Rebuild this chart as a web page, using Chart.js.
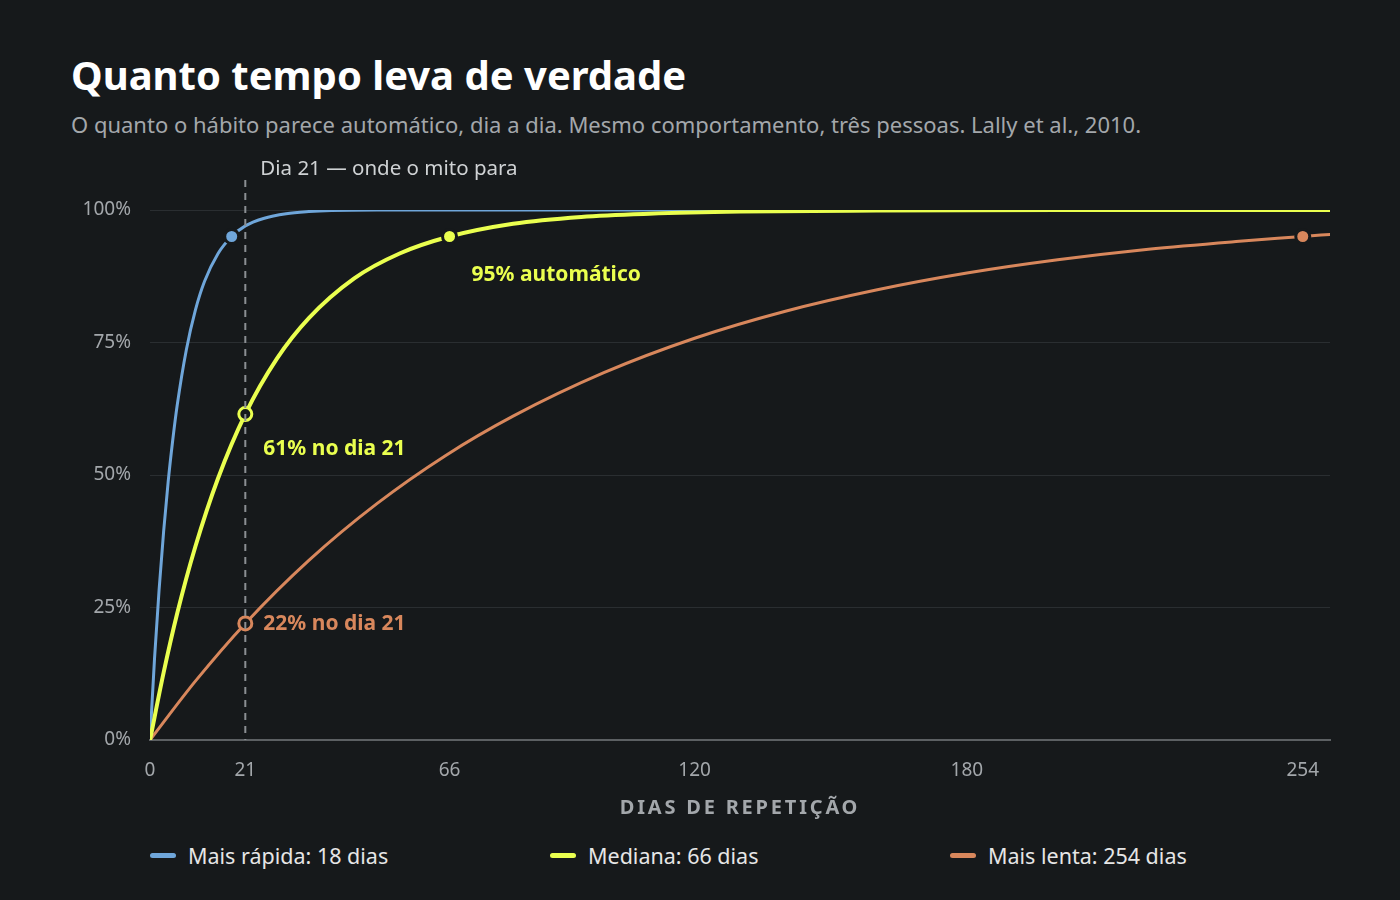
<!DOCTYPE html>
<html><head><meta charset="utf-8">
<script src="https://cdn.jsdelivr.net/npm/chart.js@4.4.1/dist/chart.umd.min.js"></script>
<style>
html,body{margin:0;padding:0;background:#16191b;width:1400px;height:900px;overflow:hidden;font-family:"Noto Sans",sans-serif;}
#title{position:absolute;left:71px;top:47px;color:#fff;font-size:40px;font-weight:700;}
#sub{position:absolute;left:71px;top:109px;color:#a3a7ab;font-size:22px;}
#wrap{position:absolute;left:0;top:150px;width:1400px;height:680px;}
#legend{position:absolute;top:841px;left:150px;display:flex;}
.li{width:400px;display:flex;align-items:center;color:#e6e6e6;font-size:21.5px;}
.sw{width:26px;height:5px;border-radius:3px;margin-right:12px;}
</style></head><body>
<div id="title">Quanto tempo leva de verdade</div>
<div id="sub">O quanto o hábito parece automático, dia a dia. Mesmo comportamento, três pessoas. Lally et al., 2010.</div>
<div id="wrap"><canvas id="c"></canvas></div>
<div id="legend"></div>
<script>
const seriesNames = ["Mais rápida: 18 dias","Mediana: 66 dias","Mais lenta: 254 dias"];
const colors = ["#6fa6da","#eaff4f","#d8875c"];
const fastDays = [0,1,2,3,4,5,6,8,10,12,15,18,21,25,30,35,40,50,60,80,100,150,200,260];
const fastVals = [0,15.4,28.3,39.3,48.7,56.5,63.2,73.6,81.1,86.5,91.8,95.0,97.0,98.4,99.3,99.7,99.9,100,100,100,100,100,100,100];
const medDays = [0,3,6,10,15,21,28,35,45,55,66,80,95,110,130,160,200,260];
const medVals = [0,12.7,23.9,36.5,49.4,61.5,72.0,79.6,87.1,91.8,95.0,97.4,98.7,99.3,99.7,99.9,100,100];
const slowDays = [0,10,21,35,50,65,80,100,120,140,160,180,200,220,240,254,260];
const slowVals = [0,11.1,22.0,33.9,44.6,53.6,61.1,69.3,75.8,80.9,84.9,88.1,90.6,92.6,94.1,95.0,95.4];
const xTicks = [0,21,66,120,180,254];
const yTicks = [0,25,50,75,100];
const xTitle = "DIAS DE REPETIÇÃO";
const mythDay = 21;
const mythLabel = "Dia 21 — onde o mito para";
const filledMarks = [{x:18,y:95,s:0},{x:66,y:95,s:1},{x:254,y:95,s:2}];
const hollowMarks = [{x:21,y:61.5,s:1},{x:21,y:22,s:2}];
const notes = [
  {text:"95% automático", x:66, y:95, dx:22, dy:39, s:1},
  {text:"61% no dia 21", x:21, y:61.5, dx:18, dy:35, s:1},
  {text:"22% no dia 21", x:21, y:22, dx:18, dy:1, s:2}
];
const BG = "#16191b";
const FONT = "'Noto Sans', sans-serif";

const lg = document.getElementById('legend');
seriesNames.forEach((n,i)=>{
  const d=document.createElement('div');d.className='li';
  d.innerHTML='<span class="sw" style="background:'+colors[i]+'"></span><span>'+n+'</span>';
  lg.appendChild(d);
});

const mk = (days, vals) => days.map((d,i)=>({x:d,y:vals[i]}));
const lineDs = (data,i,w,o)=>({type:'line',data,borderColor:colors[i],borderWidth:w,pointRadius:0,cubicInterpolationMode:'monotone',borderCapStyle:'round',order:o});

const annot = {
  id:'annot',
  afterDatasetsDraw(chart){
    const {ctx, scales:{x,y}, chartArea} = chart;
    ctx.save();
    const px = x.getPixelForValue(mythDay);
    ctx.strokeStyle = "#8b8f93"; ctx.lineWidth = 2; ctx.setLineDash([7,6]);
    ctx.beginPath(); ctx.moveTo(px, chartArea.top-30); ctx.lineTo(px, chartArea.bottom); ctx.stroke();
    ctx.setLineDash([]);
    ctx.fillStyle = "#cfd2d4"; ctx.font = "20.5px "+FONT; ctx.textBaseline='middle'; ctx.textAlign='left';
    ctx.fillText(mythLabel, px+15, chartArea.top-41);
    ctx.font = "bold 21px "+FONT;
    notes.forEach(n=>{
      ctx.fillStyle = colors[n.s];
      ctx.fillText(n.text, x.getPixelForValue(n.x)+n.dx, y.getPixelForValue(n.y)+n.dy);
    });
    ctx.fillStyle = "#a3a7ab"; ctx.font = "bold 20px "+FONT; ctx.textAlign='center';
    if ('letterSpacing' in ctx) ctx.letterSpacing = '2.8px';
    ctx.fillText(xTitle, (chartArea.left+chartArea.right)/2, chartArea.bottom+68);
    ctx.restore();
  }
};

new Chart(document.getElementById('c'), {
  data:{datasets:[
    lineDs(mk(fastDays,fastVals),0,3,3),
    lineDs(mk(medDays,medVals),1,4,1),
    lineDs(mk(slowDays,slowVals),2,3,2),
    {type:'scatter',data:filledMarks,order:0,pointRadius:7,pointBorderWidth:3,
      pointBackgroundColor:filledMarks.map(m=>colors[m.s]),pointBorderColor:BG},
    {type:'scatter',data:hollowMarks,order:0,pointRadius:6.5,pointBorderWidth:3,
      pointBackgroundColor:BG,pointBorderColor:hollowMarks.map(m=>colors[m.s])}
  ]},
  options:{
    responsive:true,maintainAspectRatio:false,animation:false,
    layout:{padding:{top:60,right:70,left:0,bottom:0}},
    plugins:{legend:{display:false},tooltip:{enabled:false}},
    scales:{
      x:{type:'linear',min:0,max:260,
        afterBuildTicks:s=>{s.ticks=xTicks.map(v=>({value:v}));},
        afterFit:s=>{s.height=90;},
        grid:{display:false,drawTicks:false},
        border:{color:"#5c6063",width:2},
        ticks:{color:"#a3a7ab",font:{size:19,family:FONT},padding:19,maxRotation:0},
        title:{display:false}
      },
      y:{min:0,max:100,
        afterBuildTicks:s=>{s.ticks=yTicks.map(v=>({value:v}));},
        afterFit:s=>{s.width=150;},
        grid:{color:"#2a2e31",lineWidth:1,drawTicks:false},
        border:{display:false},
        ticks:{color:"#a3a7ab",font:{size:19,family:FONT},padding:19,callback:v=>v+'%'}
      }
    }
  },
  plugins:[annot]
});
</script>
</body></html>
